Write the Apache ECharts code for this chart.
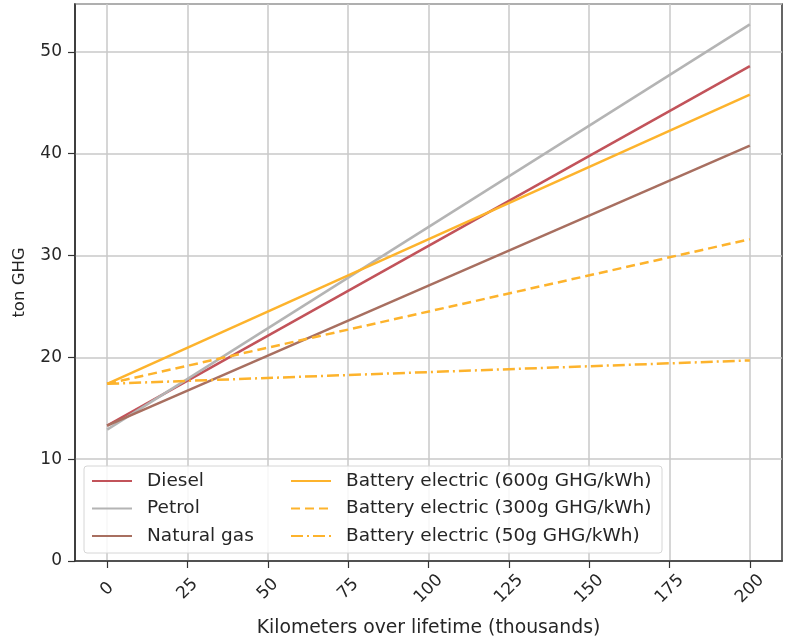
<!DOCTYPE html>
<html>
<head>
<meta charset="utf-8">
<script src="https://cdn.jsdelivr.net/npm/echarts@6/dist/echarts.min.js"></script>
<style>
  html, body { margin: 0; padding: 0; background: #fff; }
  #chart { width: 788px; height: 643px; }
</style>
</head>
<body>
<div id="chart"></div>
<script>
// km over lifetime (thousands)
var kms = [0, 200];
var xTicks = [0, 25, 50, 75, 100, 125, 150, 175, 200];

// ton GHG at start and end of lifetime
var diesel = [13.3, 48.6];
var petrol = [12.9, 52.7];
var naturalGas = [13.3, 40.8];
var be600 = [17.4, 45.8];
var be300 = [17.4, 31.6];
var be50 = [17.4, 19.7];

var names = ['Diesel', 'Petrol', 'Natural gas',
  'Battery electric (600g GHG/kWh)', 'Battery electric (300g GHG/kWh)', 'Battery electric (50g GHG/kWh)'];
var colors = ['#c2535a', '#b4b4b4', '#a86f60', '#fdb32c', '#fdb32c', '#fdb32c'];
var dashes = ['solid', 'solid', 'solid', 'solid', [9, 5], [12, 4, 2, 4]];
var values = [diesel, petrol, naturalGas, be600, be300, be50];

var chart = echarts.init(document.getElementById('chart'));

var font = 'DejaVu Sans';
var ink = '#262626';

var series = names.map(function (n, i) {
  return {
    name: n,
    type: 'line',
    data: kms.map(function (k, j) { return [k, values[i][j]]; }),
    showSymbol: false,
    symbol: 'none',
    color: colors[i],
    lineStyle: { width: 2.5, type: dashes[i] },
    z: 3
  };
});

var legendText = { fontFamily: font, fontSize: 18.5, color: ink, lineHeight: 20, padding: [0, 0, 0, 10] };

var option = {
  animation: false,
  backgroundColor: '#fff',
  grid: {
    left: 75, right: 6, top: 4, bottom: 80,
    show: true, borderColor: '#333', borderWidth: 1.5,
    containLabel: false
  },
  xAxis: {
    type: 'value',
    min: -10,
    max: 210,
    name: 'Kilometers over lifetime (thousands)',
    nameLocation: 'middle',
    nameGap: 58,
    nameTextStyle: { fontFamily: font, fontSize: 18.8, color: ink },
    axisLine: { show: true, onZero: false, lineStyle: { color: '#333', width: 1.5 } },
    axisTick: { show: true, customValues: xTicks, length: 7, lineStyle: { color: '#333', width: 1.2 } },
    axisLabel: {
      customValues: xTicks, rotate: 45, margin: 28,
      align: 'center', verticalAlign: 'middle',
      fontFamily: font, fontSize: 17, color: ink
    },
    splitLine: { show: true, lineStyle: { color: '#c8c8c8', width: 1.5 } }
  },
  yAxis: {
    type: 'value',
    min: 0,
    max: 54.7,
    interval: 10,
    name: 'ton GHG',
    nameLocation: 'middle',
    nameGap: 47,
    nameTextStyle: { fontFamily: font, fontSize: 16.5, color: ink },
    axisLine: { show: true, onZero: false, lineStyle: { color: '#333', width: 1.5 } },
    axisTick: { show: true, length: 7, lineStyle: { color: '#333', width: 1.2 } },
    axisLabel: {
      margin: 13, fontFamily: font, fontSize: 17, color: ink,
      showMaxLabel: false,
      formatter: function (v) { return v % 10 === 0 ? String(v) : ''; }
    },
    splitLine: { show: true, lineStyle: { color: '#c8c8c8', width: 1.5 } }
  },
  graphic: [{
    type: 'rect',
    shape: { x: 84, y: 466, width: 578, height: 87, r: 3 },
    style: { fill: 'rgba(255,255,255,0.85)', stroke: '#d6d6d6', lineWidth: 1 },
    z: 10
  }],
  legend: [{
    data: names.slice(0, 3),
    orient: 'vertical',
    left: 91, top: 471, padding: 0,
    itemWidth: 40, itemHeight: 20, itemGap: 7.5,
    itemStyle: { opacity: 0 },
    lineStyle: { width: 2 },
    textStyle: legendText,
    z: 20
  }, {
    data: names.slice(3),
    orient: 'vertical',
    left: 290, top: 471, padding: 0,
    itemWidth: 40, itemHeight: 20, itemGap: 7.5,
    itemStyle: { opacity: 0 },
    lineStyle: { width: 2 },
    textStyle: legendText,
    z: 20
  }],
  series: series
};

chart.setOption(option);
</script>
</body>
</html>
